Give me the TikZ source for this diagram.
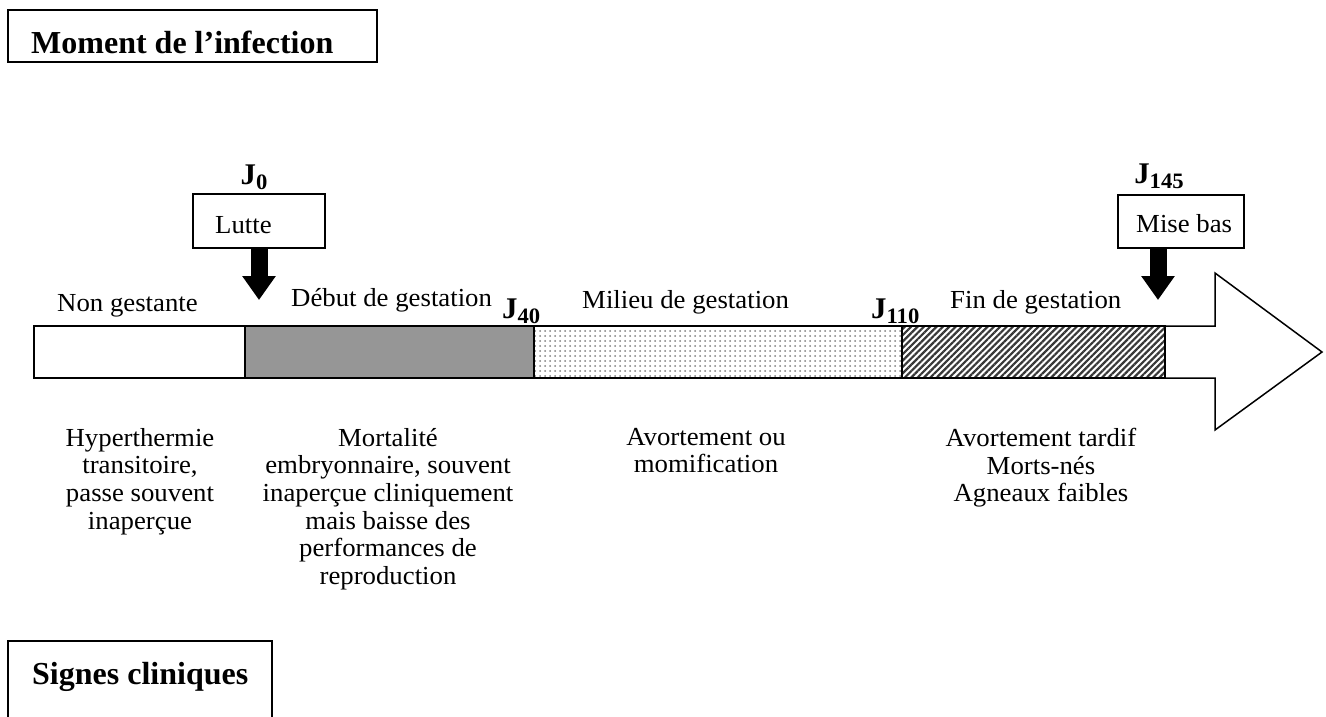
\documentclass[tikz,border=0pt]{standalone}
\usepackage{fontspec}
\setmainfont{Liberation Serif}[FakeStretch=1.03]
\newfontfamily\titlefont{Liberation Serif}
\usetikzlibrary{patterns.meta,arrows.meta}
\newcommand\Jlab[1]{J\raisebox{-5pt}{\fontsize{22}{22}\selectfont #1}}
\begin{document}
\begin{tikzpicture}[x=1pt,y=-1pt,
  every node/.style={inner sep=0pt},
  body/.style={font=\fontsize{26}{27.6}\selectfont},
  blk/.style={body,align=center,anchor=north},
  lab/.style={body,anchor=base west},
  jlab/.style={font=\fontsize{30}{30}\selectfont\bfseries,anchor=base},
  ttl/.style={font=\titlefont\bfseries\fontsize{32}{32}\selectfont,anchor=base west},
  frame/.style={draw,line width=1.8pt},
  boxnode/.style={draw,line width=1.8pt,anchor=north west},
  seg/.style={draw,line width=1.8pt},
  bigarrow/.style={draw,line width=1.5pt,fill=white},
  downarrow/.style={line width=17pt,-{Triangle[width=32pt,length=24pt]}}
]
\useasboundingbox (0,0) rectangle (1326,716);

% title box
\draw[frame] (8,10) rectangle (377,62);
\node[ttl] (title) at (31,53) {Moment de l’infection};

% bottom box
\draw[frame] (8,720) -- (8,641) -- (272,641) -- (272,720);
\node[ttl] (signes) at (32,684) {Signes cliniques};

% big arrow outline
\draw[bigarrow] (34,326) -- (1215,326) -- (1215,273) -- (1322,352) -- (1215,430) -- (1215,378) -- (34,378) -- cycle;

% segments
\draw[seg] (34,326) rectangle (245,378);
\draw[seg,fill={rgb,255:red,150;green,150;blue,150}] (245,326) rectangle (534,378);
\fill[white] (534,326) rectangle (902,378);
\fill[pattern={Dots[distance=5pt,radius=1pt]},pattern color=black!50] (534,326) rectangle (902,378);
\draw[seg] (534,326) rectangle (902,378);
\fill[white] (902,326) rectangle (1165,378);
\fill[pattern={Lines[angle=45,distance=4.5pt,line width=2.2pt]},pattern color=black!78] (902,326) rectangle (1165,378);
\draw[seg] (902,326) rectangle (1165,378);

% event boxes
\node[boxnode,minimum width=132pt,minimum height=54pt] (lutte) at (192,193) {};
\node[lab] (luttetxt) at (215,233) {Lutte};
\node[boxnode,minimum width=126pt,minimum height=53pt] (misebas) at (1117,194) {};
\node[lab] (misebastxt) at (1136,232) {Mise bas};

% J labels
\node[jlab] (j0) at (254,184) {\Jlab{0}};
\node[jlab] (j145) at (1159,183) {\Jlab{145}};
\node[jlab,anchor=base west] (j40) at (502,318) {\Jlab{40}};
\node[jlab,anchor=base west] (j110) at (871,318) {\Jlab{110}};

% down arrows
\coordinate (t1) at (259,300);
\coordinate (t2) at (1158,300);
\draw[downarrow] (t1 |- lutte.south) -- (t1);
\draw[downarrow] (t2 |- misebas.south) -- (t2);

% phase labels
\node[lab] (ng) at (57,311) {Non gestante};
\node[lab] (dg) at (291,306) {Début de gestation};
\node[lab] (mg) at (582,308) {Milieu de gestation};
\node[lab] (fg) at (950,308) {Fin de gestation};

% clinical signs
\node[blk] (s1) at (140,428) {Hyperthermie\\transitoire,\\passe souvent\\inaperçue};
\node[blk] (s2) at (388,428) {Mortalité\\embryonnaire, souvent\\inaperçue cliniquement\\mais baisse des\\performances de\\reproduction};
\node[blk] (s3) at (706,428) {Avortement ou\\momification};
\node[blk] (s4) at (1041,428) {Avortement tardif\\Morts-nés\\Agneaux faibles};
\end{tikzpicture}
\end{document}
